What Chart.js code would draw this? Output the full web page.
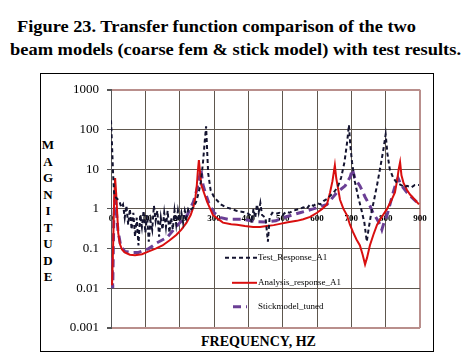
<!DOCTYPE html>
<html><head><meta charset="utf-8">
<script src="https://cdn.jsdelivr.net/npm/chart.js@4.4.0/dist/chart.umd.min.js"></script>
<style>
html,body{margin:0;padding:0;background:#fff;}
body{width:471px;height:357px;position:relative;overflow:hidden;color:#000;}
.fit{position:absolute;white-space:nowrap;font-weight:bold;transform-origin:0 0;}
#t1,#t2{font-size:16px;line-height:16px;}
#t1{left:17px;top:19px;}
#t2{left:10px;top:42px;}
#box{position:absolute;left:40px;top:73px;width:394px;height:279px;border:1px solid #000;box-sizing:border-box;}
#cv{position:absolute;left:41px;top:74px;}
#ylab{position:absolute;left:38px;width:20px;top:137px;text-align:center;font-weight:bold;font-size:13px;line-height:16.5px;}
#xlab{font-size:14px;line-height:14px;left:201px;top:335px;}
#probe{position:absolute;left:0;top:0;font-size:10px;white-space:pre;}
</style></head>
<body>
<div id="t1" class="fit" data-w="399">Figure 23. Transfer function comparison of the two</div>
<div id="t2" class="fit" data-w="451">beam models (coarse fem &amp; stick model) with test results.</div>
<div id="box"></div>
<div id="ylab">M<br>A<br>G<br>N<br>I<br>T<br>U<br>D<br>E</div>
<div id="xlab" class="fit" data-w="115">FREQUENCY, HZ</div>
<canvas id="cv" width="392" height="277"></canvas>
<div id="probe"></div>
<script>
// ---- data ----
const seriesNames = ['Test_Response_A1', 'Analysis_response_A1', 'Stickmodel_tuned'];
const xTickValues = [0, 100, 200, 300, 400, 500, 600, 700, 800, 900];
const xTickLabels = ['0', '100', '200', '300', '400', '500', '600', '700', '800', '900'];
const yTickValues = [0.001, 0.01, 0.1, 1, 10, 100, 1000];
const yTickLabels = ['0.001', '0.01', '0.1', '1', '10', '100', '1000'];

const testFreq = [0,3,6,9,12,18,25,30,35,40,45,50,55,60,65,70,75,80,85,90,95,100,105,110,115,120,125,130,135,140,145,150,155,160,165,170,175,180,185,190,195,200,205,210,215,220,225,230,240,248,255,262,268,273,277,280,283,290,300,310,320,335,350,365,380,395,405,410,415,420,425,430,435,440,450,457,462,470,480,490,500,510,520,530,540,550,560,570,580,590,600,610,620,630,640,650,660,670,680,688,693,697,702,710,720,730,738,745,750,757,765,775,785,793,800,805,812,822,833,845,855,862,875,885,897];
const testMag = [170,40,8,2.5,2,1.8,1.5,1.1,1.3,0.6,1.2,0.4,1.0,0.3,0.8,0.2,0.6,0.12,0.7,0.35,0.9,0.25,0.7,0.15,0.5,0.3,1.2,0.5,0.9,0.2,0.6,0.3,0.8,0.35,0.9,0.25,0.6,0.3,0.9,0.4,0.9,0.5,0.8,0.45,0.9,0.6,1.0,0.9,1.1,1.5,2.5,5,15,50,120,30,8,3,2,1.6,1.3,1.1,1.0,0.9,0.85,0.8,0.7,0.45,1.0,0.6,1.3,0.8,1.4,0.7,0.6,0.15,0.6,0.8,0.75,0.8,0.7,0.85,0.8,0.9,0.95,1.0,1.1,1.0,1.3,1.2,1.4,1.3,1.6,1.8,2.2,2.7,3.5,6,15,50,130,40,15,5,2,0.9,0.45,0.15,0.3,0.7,1.5,4,12,30,75,25,10,6,4.5,4,3.5,3.8,3.5,4,4];

const analysisFreq = [3,6,9,12,15,18,21,26,32,40,55,70,90,110,130,150,170,190,205,220,232,240,246,250,253,256,259,263,268,280,297,326,350,367,390,414,434,454,474,492,515,541,560,580,600,615,629,638,645,652,656,660,667,677,687,696,705,715,725,733,740,746,754,764,775,790,804,816,827,833,838,842,846,852,862,871,885,897];
const analysisMag = [0.012,0.1,1.5,6,2.5,0.8,0.25,0.13,0.095,0.08,0.07,0.068,0.072,0.085,0.1,0.12,0.16,0.22,0.3,0.45,0.7,1.1,2,4,9,17,9,4,3,1.5,0.7,0.45,0.41,0.4,0.37,0.35,0.35,0.37,0.39,0.42,0.46,0.5,0.55,0.63,0.8,1.0,1.3,2.6,5,12.5,6,3.8,1.7,1.0,0.7,0.4,0.26,0.17,0.12,0.07,0.04,0.06,0.12,0.22,0.4,0.65,1.0,1.6,2.6,5,10,15,7,4.5,3,2.3,1.7,1.3];

const stickFreq = [3,5,8,12,15,20,28,40,60,80,110,134,163,195,222,240,250,257,262,268,275,285,300,320,340,385,420,450,480,501,550,589,629,658,682,697,703,710,725,740,754,763,775,784,789,795,804,822,830,836,845,862,880,898];
const stickMag = [0.06,0.01,0.5,2.5,1,0.3,0.12,0.085,0.08,0.08,0.1,0.14,0.19,0.4,0.7,1.5,3,6,10,4,2.5,1.4,0.8,0.6,0.55,0.55,0.48,0.47,0.5,0.6,0.8,1.0,1.3,2.6,3.8,6.5,10,6,3.8,2,1.2,0.8,0.55,0.4,0.3,0.45,0.7,2.6,4.5,6,4,2.6,1.8,1.3];

const toPts = (xs, ys) => xs.map((x, i) => ({x: x, y: ys[i]}));

// pick an installed serif face
const mctx = document.createElement('canvas').getContext('2d');
function hasFont(name) {
  const s = 'mmmmmmmmmmlli1000WWQ';
  let diff = false;
  ['monospace', 'sans-serif'].forEach(fb => {
    mctx.font = '40px ' + fb; const a = mctx.measureText(s).width;
    mctx.font = '40px "' + name + '", ' + fb; const b = mctx.measureText(s).width;
    if (Math.abs(a - b) > 0.5) diff = true;
  });
  return diff;
}
const candidates = ['Liberation Serif', 'Tinos', 'Times New Roman', 'Nimbus Roman', 'Nimbus Roman No9 L', 'FreeSerif', 'Noto Serif', 'DejaVu Serif'];
let serifName = candidates.find(hasFont) || 'DejaVu Serif';
const isDejaVu = serifName === 'DejaVu Serif';
const serif = '"' + serifName + '", serif';
document.body.style.fontFamily = serif;
document.getElementById('probe').textContent = '';

const gridC = '#5e574e';
const frameC = '#b98f8c';
const ySize = isDejaVu ? 11 : 13;
const xSize = isDejaVu ? 8 : 9;
const lSize = isDejaVu ? 8 : 9;

const legendPlugin = {
  id: 'inlineLegend',
  afterDatasetsDraw(chart) {
    const ctx = chart.ctx, a = chart.chartArea;
    const items = [
      {ds: 0, x1: 114, x2: 146, y: 168},
      {ds: 1, x1: 121, x2: 146, y: 193},
      {ds: 2, x1: 122, x2: 136, y: 217}
    ];
    ctx.save();
    items.forEach(it => {
      const d = chart.data.datasets[it.ds];
      ctx.beginPath();
      ctx.strokeStyle = d.borderColor;
      ctx.lineWidth = d.borderWidth;
      ctx.setLineDash(d.borderDash || []);
      ctx.moveTo(a.left + it.x1, a.top + it.y);
      ctx.lineTo(a.left + it.x2, a.top + it.y);
      ctx.stroke();
      ctx.setLineDash([]);
      ctx.fillStyle = '#000';
      ctx.font = lSize + 'px ' + serif;
      ctx.textBaseline = 'middle';
      ctx.textAlign = 'left';
      ctx.fillText(d.label, a.left + 147, a.top + it.y);
    });
    ctx.restore();
  }
};

new Chart(document.getElementById('cv'), {
  type: 'line',
  data: {
    datasets: [
      {label: seriesNames[0], data: toPts(testFreq, testMag), borderColor: '#141430', borderWidth: 2, borderDash: [4, 3], pointRadius: 0, tension: 0, fill: false},
      {label: seriesNames[1], data: toPts(analysisFreq, analysisMag), borderColor: '#d90f0f', borderWidth: 2, pointRadius: 0, tension: 0, fill: false},
      {label: seriesNames[2], data: toPts(stickFreq, stickMag), borderColor: '#6b3f95', borderWidth: 3, borderDash: [8, 5], pointRadius: 0, tension: 0, fill: false}
    ]
  },
  options: {
    responsive: false,
    animation: false,
    layout: {padding: {left: 0, right: 13, top: 11, bottom: 23}},
    plugins: {legend: {display: false}, tooltip: {enabled: false}, title: {display: false}},
    scales: {
      x: {
        type: 'linear', min: 0, max: 900, position: {y: 1},
        afterBuildTicks: s => { s.ticks = xTickValues.map(v => ({value: v})); },
        ticks: {callback: (v, i) => xTickLabels[i], font: {family: serif, size: xSize, weight: 'bold'}, color: '#000', padding: 4, maxRotation: 0, autoSkip: false},
        grid: {color: c => (c.tick && c.tick.value === 900) ? frameC : gridC, lineWidth: c => (c.tick && c.tick.value === 900) ? 2 : 1, drawTicks: false},
        border: {display: false}
      },
      y: {
        type: 'logarithmic', min: 0.001, max: 1000,
        afterBuildTicks: s => { s.ticks = yTickValues.map(v => ({value: v, major: true})); },
        afterFit: s => { s.width = 70; },
        ticks: {callback: (v, i) => yTickLabels[i], font: {family: serif, size: ySize}, color: '#000', padding: 8, autoSkip: false},
        grid: {color: c => (c.tick && (c.tick.value === 1000 || c.tick.value === 0.001)) ? frameC : gridC,
               lineWidth: c => (c.tick && (c.tick.value === 1000 || c.tick.value === 0.001)) ? 2 : 1,
               tickLength: 4, tickColor: '#555'},
        border: {color: '#555', width: 1}
      }
    }
  },
  plugins: [legendPlugin]
});

document.querySelectorAll('.fit').forEach(el => {
  const target = parseFloat(el.dataset.w);
  const w = el.getBoundingClientRect().width;
  if (w > 0) el.style.transform = 'scaleX(' + (target / w) + ')';
});
</script>
</body></html>
